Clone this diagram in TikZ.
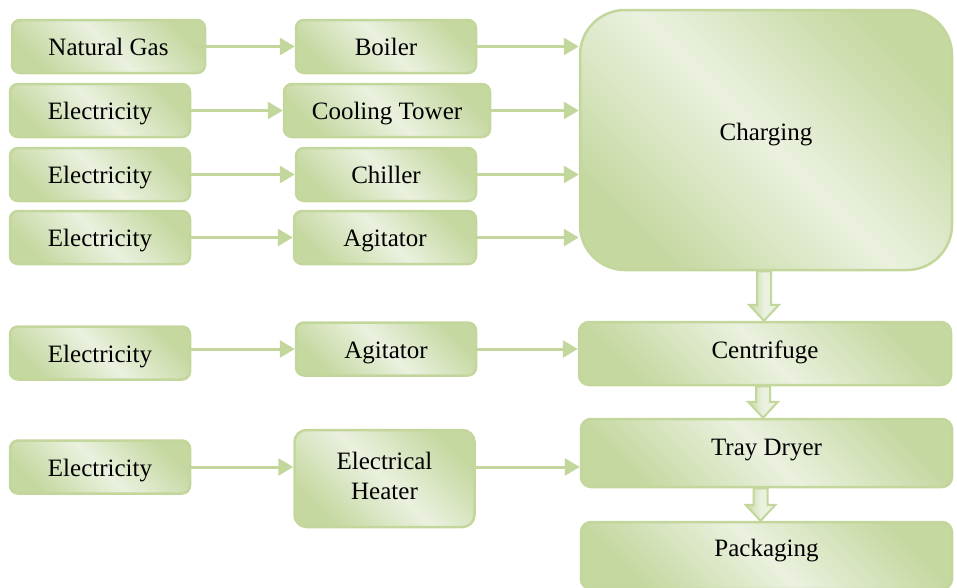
\documentclass[tikz,border=0pt]{standalone}
\usepackage{fontspec}
\setmainfont{Liberation Serif}
\usetikzlibrary{arrows.meta,calc}

\definecolor{gline}{HTML}{C3D69B}
\definecolor{gdark}{HTML}{C5D8A0}
\definecolor{glight}{HTML}{EAF1DF}

\tikzset{
  box/.style={draw=gline, line width=2.5pt, rounded corners=8pt,
    top color=gdark, bottom color=gdark, middle color=glight, shading angle=-45,
    font=\fontsize{25}{30}\selectfont, inner sep=0pt,
    text height=18pt, text depth=0pt},
  flow/.style={draw=gline, line width=3pt, -{Triangle[length=15pt,width=17pt]}},
  fatarrow/.style={draw=gline, line width=2pt, left color=gdark, right color=glight,
    middle color=glight}
}

% hollow block arrow pointing down from node #1 to node #2
\newcommand\blockdown[2]{%
  \path[fatarrow] let \p1=(#1), \p2=(#2) in
    (\x1-7pt,\y1) -- (\x1-7pt,\y2+16pt) -- (\x1-15pt,\y2+16pt) -- (\x1,\y2)
    -- (\x1+15pt,\y2+16pt) -- (\x1+7pt,\y2+16pt) -- (\x1+7pt,\y1) -- cycle;}

\begin{document}
\begin{tikzpicture}[x=1pt,y=-1pt]
\useasboundingbox (0,0) rectangle (957,587);

% energy sources
\node[box, minimum width=193, minimum height=53] (ng) at (108.5,46.5) {Natural Gas};
\node[box, minimum width=180, minimum height=53] (e1) at (100,110.5) {Electricity};
\node[box, minimum width=180, minimum height=53] (e2) at (100,174.5) {Electricity};
\node[box, minimum width=180, minimum height=53] (e3) at (100,237.5) {Electricity};
\node[box, minimum width=180, minimum height=53] (e4) at (100,353) {Electricity};
\node[box, minimum width=180, minimum height=53] (e5) at (100,467) {Electricity};

% equipment
\node[box, minimum width=180, minimum height=53] (boiler) at (386,46.5) {Boiler};
\node[box, minimum width=206, minimum height=53] (ct) at (387,110.5) {Cooling Tower};
\node[box, minimum width=180, minimum height=53] (chiller) at (386,174.5) {Chiller};
\node[box, minimum width=182, minimum height=53] (ag1) at (385,237.5) {Agitator};
\node[box, minimum width=180, minimum height=53] (ag2) at (386,349) {Agitator};
\node[box, minimum width=180, minimum height=97, rounded corners=12pt,
      text height=, text depth=] (eh) at (384.5,478.5)
      {\begin{tabular}{@{}c@{}}Electrical\\Heater\end{tabular}};

% process steps
\node[box, minimum width=372, minimum height=260, rounded corners=45pt,
      text depth=18pt] (ch) at (766,140) {Charging};
\node[box, minimum width=372, minimum height=63, rounded corners=10pt,
      text depth=8pt] (cf) at (765,353.5) {Centrifuge};
\node[box, minimum width=371, minimum height=68, rounded corners=10pt,
      text depth=14pt] (td) at (766.5,453) {Tray Dryer};
\node[box, minimum width=371, minimum height=67, rounded corners=10pt,
      text depth=16pt] (pk) at (766.5,555.5) {Packaging};

% energy supply lines
\draw[flow] (e1.east |- ng.east) -- (boiler.west);
\draw[flow] (e1.east) -- (ct.west);
\draw[flow] (e2.east) -- (chiller.west);
\draw[flow] (e3.east) -- (ag1.west);
\draw[flow] (e4.east |- ag2.west) -- (ag2.west);
\draw[flow] (e5.east) -- (eh.west |- e5.east);

% equipment to process steps
\draw[flow] (boiler.east) -- (ch.west |- boiler.east);
\draw[flow] (ct.east) -- (ch.west |- ct.east);
\draw[flow] (chiller.east) -- (ch.west |- chiller.east);
\draw[flow] (ag1.east) -- (ch.west |- ag1.east);
\draw[flow] (ag2.east) -- (cf.west |- ag2.east);
\draw[flow] (eh.east |- e5.east) -- (td.west |- e5.east);

% process sequence
\blockdown{$(ch.south)+(-2,0)$}{$(cf.north)+(-2,0)$}
\blockdown{$(cf.south)+(-2,0)$}{$(td.north)+(-2,0)$}
\blockdown{$(td.south)+(-6,0)$}{$(pk.north)+(-6,0)$}
\end{tikzpicture}
\end{document}
